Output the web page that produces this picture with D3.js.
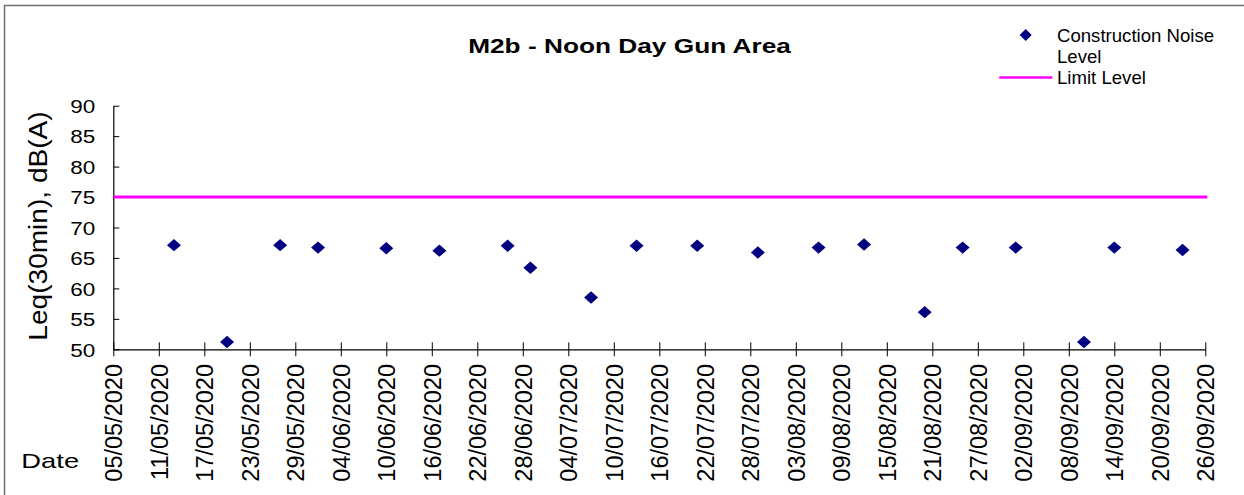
<!DOCTYPE html>
<html>
<head>
<meta charset="utf-8">
<script src="https://cdn.jsdelivr.net/npm/d3@7"></script>
<style>
  body { margin: 0; background: #fff; }
  svg { display: block; font-family: "Liberation Sans", Arial, sans-serif; }
</style>
</head>
<body>
<div id="chart"></div>
<script>
// measurement dates and levels, dB(A)
const dates = ["13/05/2020", "20/05/2020", "27/05/2020", "01/06/2020", "10/06/2020",
    "17/06/2020", "26/06/2020", "29/06/2020", "07/07/2020", "13/07/2020",
    "21/07/2020", "29/07/2020", "06/08/2020", "12/08/2020", "20/08/2020",
    "25/08/2020", "01/09/2020", "10/09/2020", "14/09/2020", "23/09/2020"];
const levels = [67.1, 51.2, 67.1, 66.7, 66.6,
    66.2, 67.0, 63.4, 58.5, 67.0,
    67.0, 65.9, 66.7, 67.2, 56.1,
    66.7, 66.7, 51.2, 66.7, 66.3];
const limitLevel = 75;
const xTickLabels = ["05/05/2020", "11/05/2020", "17/05/2020", "23/05/2020", "29/05/2020",
    "04/06/2020", "10/06/2020", "16/06/2020", "22/06/2020", "28/06/2020",
    "04/07/2020", "10/07/2020", "16/07/2020", "22/07/2020", "28/07/2020",
    "03/08/2020", "09/08/2020", "15/08/2020", "21/08/2020", "27/08/2020",
    "02/09/2020", "08/09/2020", "14/09/2020", "20/09/2020", "26/09/2020"];
const yTicks = [50, 55, 60, 65, 70, 75, 80, 85, 90];

const parse = d3.utcParse("%d/%m/%Y");
const fmt = d3.utcFormat("%d/%m/%Y");
const points = dates.map((d, i) => ({ date: parse(d), value: levels[i] }));
const tickDates = xTickLabels.map(parse);

const width = 1244, height = 495;
const svg = d3.select("#chart").append("svg")
    .attr("width", width)
    .attr("height", height);

// outer frame (runs off right and bottom like the source)
svg.append("rect")
    .attr("x", 4.5).attr("y", 5.5)
    .attr("width", width + 10).attr("height", height + 10)
    .attr("fill", "none")
    .attr("stroke", "#707070")
    .attr("stroke-width", 1.5);

const x = d3.scaleUtc()
    .domain([tickDates[0], tickDates[tickDates.length - 1]])
    .range([113.3, 1205.3]);

const y = d3.scaleLinear()
    .domain([50, 90])
    .range([349.3, 105.7]);

// title
svg.append("text")
    .attr("transform", "translate(629.5,53.3) scale(1.25,1)")
    .attr("text-anchor", "middle")
    .attr("font-size", "21px")
    .attr("font-weight", "bold")
    .text("M2b - Noon Day Gun Area");

// y axis
const yAxis = svg.append("g")
    .attr("transform", "translate(" + x.range()[0] + ",0)")
    .call(d3.axisLeft(y).tickValues(yTicks).tickSizeInner(-6).tickSizeOuter(0).tickFormat(d3.format("d")));
yAxis.select(".domain").attr("stroke", "#000").attr("stroke-width", 1.2);
yAxis.selectAll(".tick line").attr("stroke", "#000");
yAxis.selectAll(".tick text").remove();
yAxis.selectAll(".tick").append("text")
    .attr("transform", "translate(-18,6.7) scale(1.21,1)")
    .attr("text-anchor", "end")
    .attr("fill", "#000")
    .attr("font-size", "18.6px")
    .text(d => d);

// x axis
const xAxis = svg.append("g")
    .attr("transform", "translate(0," + y.range()[0] + ")")
    .call(d3.axisBottom(x).tickValues(tickDates).tickSizeOuter(0).tickFormat(fmt));
xAxis.select(".domain").attr("stroke", "#000").attr("stroke-width", 1.2);
xAxis.selectAll(".tick line").attr("y1", -7).attr("y2", 7).attr("stroke", "#000");
xAxis.selectAll(".tick text").remove();
xAxis.selectAll(".tick").append("text")
    .attr("transform", "translate(8.4,14.7) rotate(-90)")
    .attr("text-anchor", "end")
    .attr("fill", "#000")
    .attr("font-size", "23.5px")
    .text(d => fmt(d));

// axis titles
svg.append("text")
    .attr("transform", "translate(46.7,226) rotate(-90) scale(1.08,1)")
    .attr("text-anchor", "middle")
    .attr("font-size", "26px")
    .text("Leq(30min), dB(A)");

svg.append("text")
    .attr("transform", "translate(21.3,467.7) scale(1.37,1)")
    .attr("font-size", "20px")
    .text("Date");

// limit line
svg.append("line")
    .attr("x1", x.range()[0])
    .attr("x2", x.range()[1] + 2)
    .attr("y1", y(limitLevel))
    .attr("y2", y(limitLevel))
    .attr("stroke", "#ff00ff")
    .attr("stroke-width", 3);

// diamonds
const diamond = (hw, hh) => "M0," + (-hh) + "L" + hw + ",0L0," + hh + "L" + (-hw) + ",0Z";

svg.selectAll(".pt")
    .data(points)
    .enter()
    .append("path")
    .attr("class", "pt")
    .attr("transform", d => "translate(" + x(d.date) + "," + y(d.value) + ")")
    .attr("d", diamond(7, 6.2))
    .attr("fill", "#000080");

// legend
const legend = svg.append("g");
legend.append("path")
    .attr("transform", "translate(1025.7,35)")
    .attr("d", diamond(6, 6))
    .attr("fill", "#000080");
legend.append("line")
    .attr("x1", 999.3).attr("x2", 1052.3)
    .attr("y1", 77.5).attr("y2", 77.5)
    .attr("stroke", "#ff00ff")
    .attr("stroke-width", 2.5);
legend.selectAll("text")
    .data([["Construction Noise", 42.3], ["Level", 63.3], ["Limit Level", 84]])
    .enter()
    .append("text")
    .attr("x", 1057)
    .attr("y", d => d[1])
    .attr("font-size", "18.6px")
    .text(d => d[0]);
</script>
</body>
</html>
